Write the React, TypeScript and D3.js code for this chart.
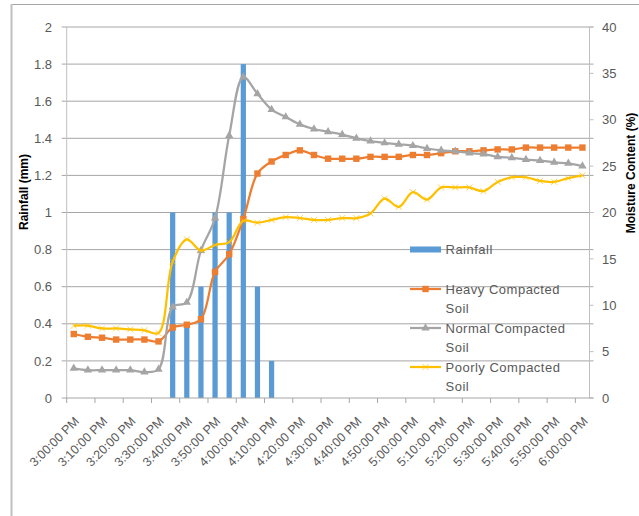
import React, { useEffect, useRef } from "react";
import * as d3 from "d3";

// categories (5 minute readings)
const times = [
  "3:00:00 PM", "3:05:00 PM", "3:10:00 PM", "3:15:00 PM", "3:20:00 PM", "3:25:00 PM",
  "3:30:00 PM", "3:35:00 PM", "3:40:00 PM", "3:45:00 PM", "3:50:00 PM", "3:55:00 PM",
  "4:00:00 PM", "4:05:00 PM", "4:10:00 PM", "4:15:00 PM", "4:20:00 PM", "4:25:00 PM",
  "4:30:00 PM", "4:35:00 PM", "4:40:00 PM", "4:45:00 PM", "4:50:00 PM", "4:55:00 PM",
  "5:00:00 PM", "5:05:00 PM", "5:10:00 PM", "5:15:00 PM", "5:20:00 PM", "5:25:00 PM",
  "5:30:00 PM", "5:35:00 PM", "5:40:00 PM", "5:45:00 PM", "5:50:00 PM", "5:55:00 PM",
  "6:00:00 PM",
];

// rainfall in mm (left axis)
const rainfall = [
  0, 0, 0, 0, 0, 0, 0, 1.0, 0.4, 0.6, 1.0, 1.0, 1.8, 0.6, 0.2, 0, 0, 0, 0,
  0, 0, 0, 0, 0, 0, 0, 0, 0, 0, 0, 0, 0, 0, 0, 0, 0, 0,
];

// moisture content % (right axis)
const heavy = [
  6.9, 6.6, 6.5, 6.3, 6.3, 6.3, 6.1, 7.6, 7.9, 8.5, 13.6, 15.5, 19.3, 24.2, 25.5, 26.2,
  26.7, 26.2, 25.8, 25.8, 25.8, 26.0, 26.0, 26.0, 26.2, 26.2, 26.4, 26.6, 26.6, 26.7,
  26.8, 26.8, 27.0, 27.0, 27.0, 27.0, 27.0,
];
const normal = [
  3.2, 3.0, 3.0, 3.0, 3.0, 2.8, 3.1, 9.8, 10.3, 15.9, 19.4, 28.3, 34.6, 32.8, 31.1, 30.3,
  29.5, 29.0, 28.7, 28.4, 28.0, 27.7, 27.5, 27.35, 27.2, 26.9, 26.7, 26.6, 26.4, 26.3,
  26.0, 25.9, 25.7, 25.6, 25.4, 25.3, 25.0,
];
const poorly = [
  7.8, 7.8, 7.5, 7.5, 7.4, 7.3, 7.0, 14.7, 17.1, 15.9, 16.5, 16.8, 19.1, 18.9, 19.2, 19.5,
  19.4, 19.2, 19.2, 19.4, 19.4, 19.9, 21.5, 20.6, 22.2, 21.4, 22.7, 22.7, 22.7, 22.3,
  23.3, 23.8, 23.8, 23.4, 23.3, 23.7, 24.0,
];

const leftTicks = [0, 0.2, 0.4, 0.6, 0.8, 1, 1.2, 1.4, 1.6, 1.8, 2];
const rightTicks = [0, 5, 10, 15, 20, 25, 30, 35, 40];

const FONT = "'Liberation Sans', Arial, sans-serif";
const LABEL = "#595959";

const App = () => {
  const svgRef = useRef<SVGSVGElement>(null);

  useEffect(() => {
    const width = 639;
    const height = 516;
    const plot = { left: 66.7, right: 589.5, top: 27, bottom: 398 };

    const svg = d3.select(svgRef.current);
    svg.selectAll("*").remove();
    svg.attr("width", width).attr("height", height);

    // outer chart frame (only top and left edges are visible)
    svg.append("line")
      .attr("x1", 11).attr("x2", width).attr("y1", 4.5).attr("y2", 4.5)
      .style("stroke", "#a6a6a6");
    svg.append("line")
      .attr("x1", 11.5).attr("x2", 11.5).attr("y1", 4).attr("y2", height)
      .style("stroke", "#bfbfbf").style("stroke-width", 2);

    const x = d3.scaleBand()
      .domain(times)
      .range([plot.left, plot.right])
      .padding(0);
    const cx = (t: string) => (x(t) as number) + x.bandwidth() / 2;

    const yL = d3.scaleLinear().domain([0, 2]).range([plot.bottom, plot.top]);
    const yR = d3.scaleLinear().domain([0, 40]).range([plot.bottom, plot.top]);

    // grid lines
    svg.append("g")
      .selectAll("line")
      .data(leftTicks.filter((d) => d > 0))
      .enter()
      .append("line")
      .attr("x1", plot.left - 5)
      .attr("x2", plot.right + 4)
      .attr("y1", (d) => yL(d))
      .attr("y2", (d) => yL(d))
      .style("stroke", "#a6a6a6")
      .style("stroke-width", 1);

    // left axis labels
    svg.append("g")
      .selectAll("text")
      .data(leftTicks)
      .enter()
      .append("text")
      .attr("x", 52)
      .attr("y", (d) => yL(d))
      .attr("dy", "0.36em")
      .attr("text-anchor", "end")
      .style("font-family", FONT)
      .style("font-size", "13px")
      .style("fill", LABEL)
      .text((d) => String(d));

    // right axis labels
    svg.append("g")
      .selectAll("text")
      .data(rightTicks)
      .enter()
      .append("text")
      .attr("x", 602)
      .attr("y", (d) => yR(d))
      .attr("dy", "0.36em")
      .style("font-family", FONT)
      .style("font-size", "13px")
      .style("fill", LABEL)
      .text((d) => String(d));

    // rainfall bars
    const barW = x.bandwidth() * 0.37;
    svg.append("g")
      .selectAll("rect")
      .data(times.map((t, i) => ({ t, v: rainfall[i] })).filter((d) => d.v > 0))
      .enter()
      .append("rect")
      .attr("x", (d) => cx(d.t) - barW / 2)
      .attr("width", barW)
      .attr("y", (d) => yL(d.v))
      .attr("height", (d) => yL(0) - yL(d.v))
      .style("fill", "#5b9bd5");

    // axes lines
    svg.append("line")
      .attr("x1", plot.left).attr("x2", plot.left)
      .attr("y1", plot.top).attr("y2", plot.bottom)
      .style("stroke", "#bfbfbf");
    svg.append("line")
      .attr("x1", plot.right).attr("x2", plot.right)
      .attr("y1", plot.top).attr("y2", plot.bottom)
      .style("stroke", "#bfbfbf");
    svg.append("g")
      .selectAll("line")
      .data(rightTicks)
      .enter()
      .append("line")
      .attr("x1", plot.right)
      .attr("x2", plot.right + 4)
      .attr("y1", (d) => yR(d))
      .attr("y2", (d) => yR(d))
      .style("stroke", "#bfbfbf");
    svg.append("line")
      .attr("x1", plot.left - 5).attr("x2", plot.right + 4)
      .attr("y1", plot.bottom).attr("y2", plot.bottom)
      .style("stroke", "#a6a6a6");

    // x ticks every second category
    const labelled = times.filter((_, i) => i % 2 === 0);
    svg.append("g")
      .selectAll("line")
      .data(labelled)
      .enter()
      .append("line")
      .attr("x1", (d) => x(d) as number)
      .attr("x2", (d) => x(d) as number)
      .attr("y1", plot.bottom)
      .attr("y2", plot.bottom + 5)
      .style("stroke", "#a6a6a6");

    svg.append("g")
      .selectAll("text")
      .data(labelled)
      .enter()
      .append("text")
      .attr("transform", (d) => `translate(${cx(d) + 3},${plot.bottom + 21}) rotate(-45)`)
      .attr("text-anchor", "end")
      .attr("dy", "0.35em")
      .style("font-family", FONT)
      .style("font-size", "12.5px")
      .style("fill", LABEL)
      .text((d) => d);

    // moisture lines
    const series = [
      { key: "heavy", values: heavy, color: "#ed7d31", marker: "square" },
      { key: "normal", values: normal, color: "#a5a5a5", marker: "triangle" },
      { key: "poorly", values: poorly, color: "#ffc000", marker: "cross" },
    ];

    const line = d3.line<number>()
      .x((_, i) => cx(times[i]))
      .y((d) => yR(d))
      .curve(d3.curveCatmullRom.alpha(0.5));

    const drawMarker = (g: any, kind: string, color: string, px: number, py: number) => {
      if (kind === "square") {
        g.append("rect")
          .attr("x", px - 3.2).attr("y", py - 3.2)
          .attr("width", 6.4).attr("height", 6.4)
          .style("fill", color);
      } else if (kind === "triangle") {
        g.append("path")
          .attr("d", d3.symbol().type(d3.symbolTriangle).size(30)())
          .attr("transform", `translate(${px},${py})`)
          .style("fill", color);
      } else {
        g.append("path")
          .attr("d", `M${px - 3},${py - 3}L${px + 3},${py + 3}M${px - 3},${py + 3}L${px + 3},${py - 3}`)
          .style("stroke", color)
          .style("stroke-width", 1)
          .style("opacity", 0.7);
      }
    };

    series.forEach((s) => {
      const g = svg.append("g");
      g.append("path")
        .datum(s.values)
        .attr("d", line)
        .style("fill", "none")
        .style("stroke", s.color)
        .style("stroke-width", 2.25)
        .style("stroke-linejoin", "round");
      s.values.forEach((v, i) => drawMarker(g, s.marker, s.color, cx(times[i]), yR(v)));
    });

    // axis titles
    svg.append("text")
      .attr("transform", `translate(28,192) rotate(-90)`)
      .attr("text-anchor", "middle")
      .style("font-family", FONT)
      .style("font-size", "12px")
      .style("font-weight", "bold")
      .style("fill", "#000")
      .text("Rainfall (mm)");
    svg.append("text")
      .attr("transform", `translate(635,173) rotate(-90)`)
      .attr("text-anchor", "middle")
      .style("font-family", FONT)
      .style("font-size", "12px")
      .style("font-weight", "bold")
      .style("fill", "#000")
      .text("Moisture Content (%)");

    // legend
    const legend = [
      { lines: ["Rainfall"], color: "#5b9bd5", marker: "bar", y: 249.5 },
      { lines: ["Heavy Compacted", "Soil"], color: "#ed7d31", marker: "square", y: 289 },
      { lines: ["Normal Compacted", "Soil"], color: "#a5a5a5", marker: "triangle", y: 328 },
      { lines: ["Poorly Compacted", "Soil"], color: "#ffc000", marker: "cross", y: 367 },
    ];
    const lg = svg.append("g");
    legend.forEach((item) => {
      if (item.marker === "bar") {
        lg.append("rect")
          .attr("x", 410).attr("y", item.y - 3)
          .attr("width", 31).attr("height", 6)
          .style("fill", item.color);
      } else {
        lg.append("line")
          .attr("x1", 410).attr("x2", 441)
          .attr("y1", item.y).attr("y2", item.y)
          .style("stroke", item.color)
          .style("stroke-width", 2.25);
        drawMarker(lg, item.marker, item.color, 425.5, item.y);
      }
      item.lines.forEach((txt, j) => {
        lg.append("text")
          .attr("x", 445.5)
          .attr("y", item.y + j * 19.5)
          .attr("dy", "0.36em")
          .style("font-family", FONT)
          .style("font-size", "13px")
          .style("letter-spacing", "0.5px")
          .style("fill", LABEL)
          .text(txt);
      });
    });
  }, []);

  return (
    <div style={{ position: "absolute", left: 0, top: 0, background: "#fff" }}>
      <svg ref={svgRef} style={{ display: "block" }} />
    </div>
  );
};

export default App;
